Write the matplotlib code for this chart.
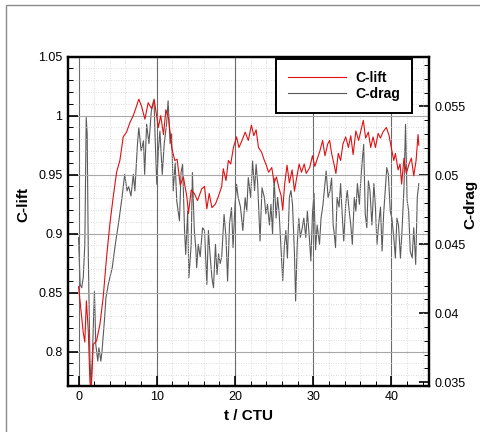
import numpy as np
import matplotlib
matplotlib.use("Agg")
import matplotlib.pyplot as plt
from matplotlib.ticker import MultipleLocator
from matplotlib.patches import Rectangle

plt.rcParams['font.family'] = ['Liberation Sans', 'DejaVu Sans']

# C-lift history (left axis)
t_lift = [0.0, 0.4, 0.6, 0.8, 1.0, 1.24, 1.45, 1.6, 1.88, 2.3,
          2.73, 3.15, 3.58, 4.0, 4.43, 4.86, 5.28, 5.71, 6.13, 6.56,
          6.99, 7.41, 7.7, 8.05, 8.48, 8.9, 9.33, 9.66, 10.2, 10.5,
          10.86, 11.16, 11.5, 11.93, 12.3, 12.6, 13.0, 13.4, 13.85, 14.05,
          14.4, 14.8, 15.2, 15.75, 16.1, 16.4, 16.7, 17.05, 17.5, 17.9,
          18.3, 18.5, 18.85, 19.15, 19.45, 19.8, 20.2, 20.5, 20.9, 21.3,
          21.7, 22.1, 22.4, 22.7, 23.0, 23.4, 23.7, 24.0, 24.3, 24.7,
          25.0, 25.3, 25.6, 25.9, 26.1, 26.35, 26.65, 26.95, 27.3, 27.6,
          27.9, 28.2, 28.5, 28.85, 29.1, 29.55, 29.9, 30.2, 30.55, 30.85,
          31.2, 31.5, 31.85, 32.1, 32.35, 32.65, 32.9, 33.2, 33.5, 33.8,
          34.15, 34.5, 34.8, 35.1, 35.45, 35.8, 36.05, 36.4, 36.7, 37.05,
          37.35, 37.65, 37.95, 38.3, 38.6, 38.9, 39.35, 39.7, 40.0, 40.3,
          40.5, 40.85, 41.1, 41.3, 41.6, 41.9, 42.25, 42.55, 42.85, 43.15,
          43.4, 43.5]
c_lift = [0.855, 0.829, 0.816, 0.808, 0.843, 0.818, 0.775, 0.765, 0.806, 0.809,
          0.823, 0.846, 0.88, 0.908, 0.931, 0.952, 0.962, 0.982, 0.986, 0.994,
          1.0, 1.008, 1.014, 1.008, 0.997, 1.011, 1.006, 1.014, 0.99, 1.0,
          0.984, 1.005, 0.998, 0.972, 0.962, 0.963, 0.941, 0.948, 0.931, 0.917,
          0.937, 0.934, 0.928, 0.938, 0.94, 0.921, 0.934, 0.922, 0.925, 0.932,
          0.94, 0.955, 0.945, 0.962, 0.959, 0.973, 0.982, 0.973, 0.979, 0.986,
          0.979, 0.992, 0.983, 0.988, 0.973, 0.969, 0.963, 0.958, 0.952, 0.956,
          0.943, 0.948, 0.939, 0.932, 0.92, 0.942, 0.958, 0.943, 0.954, 0.936,
          0.948, 0.959, 0.952, 0.959, 0.951, 0.956, 0.966, 0.957, 0.964, 0.97,
          0.979, 0.966, 0.976, 0.979, 0.968, 0.959, 0.951, 0.968, 0.962, 0.976,
          0.982, 0.973, 0.983, 0.967, 0.987, 0.979, 0.986, 0.996, 0.981, 0.986,
          0.973, 0.982, 0.973, 0.985, 0.981, 0.986, 0.99, 0.983, 0.972, 0.962,
          0.968, 0.954, 0.959, 0.942, 0.964, 0.951, 0.959, 0.964, 0.949, 0.962,
          0.984, 0.975]

# C-drag history (right axis)
t_drag = [0.0, 0.2, 0.4, 0.6, 0.8, 0.98, 1.1, 1.25, 1.45, 1.6,
          1.8, 2.03, 2.2, 2.46, 2.6, 2.85, 3.0, 3.3, 3.5, 3.8,
          4.3, 4.7, 5.15, 5.55, 5.9, 6.2, 6.4, 6.7, 7.0, 7.2,
          7.5, 7.7, 8.0, 8.3, 8.45, 8.7, 9.0, 9.3, 9.65, 9.8,
          10.0, 10.2, 10.4, 10.7, 10.95, 11.25, 11.45, 11.7, 11.9, 12.1,
          12.35, 12.55, 12.9, 13.1, 13.3, 13.55, 13.7, 13.95, 14.1, 14.4,
          14.55, 14.8, 15.0, 15.1, 15.3, 15.55, 15.85, 16.1, 16.4, 16.6,
          16.8, 17.05, 17.25, 17.5, 17.7, 17.9, 18.1, 18.3, 18.6, 18.85,
          19.05, 19.3, 19.55, 19.75, 20.0, 20.2, 20.4, 20.7, 21.0, 21.3,
          21.5, 21.7, 22.0, 22.25, 22.5, 22.7, 22.9, 23.2, 23.45, 23.75,
          23.95, 24.15, 24.4, 24.6, 24.8, 25.0, 25.25, 25.45, 25.65, 25.85,
          26.1, 26.3, 26.5, 26.7, 26.95, 27.15, 27.35, 27.6, 27.75, 27.95,
          28.15, 28.35, 28.6, 28.8, 29.05, 29.25, 29.5, 29.7, 29.9, 30.1,
          30.3, 30.5, 30.8, 31.0, 31.25, 31.45, 31.65, 31.9, 32.15, 32.35,
          32.55, 32.7, 32.85, 33.05, 33.3, 33.5, 33.7, 33.9, 34.15, 34.35,
          34.6, 34.8, 35.0, 35.25, 35.45, 35.65, 35.9, 36.1, 36.3, 36.45,
          36.65, 36.85, 37.05, 37.25, 37.5, 37.75, 37.95, 38.15, 38.35, 38.6,
          38.8, 39.0, 39.2, 39.4, 39.6, 39.85, 40.05, 40.3, 40.5, 40.7,
          40.9, 41.15, 41.35, 41.6, 41.8, 42.0, 42.2, 42.4, 42.65, 42.85,
          43.1, 43.3, 43.5]
c_drag = [0.04548, 0.04209, 0.04185, 0.04258, 0.045, 0.05419, 0.0530, 0.04403, 0.03677, 0.0345,
          0.0375, 0.04161, 0.03774, 0.03653, 0.0375, 0.03653, 0.03726, 0.03943, 0.04112, 0.04209,
          0.0433, 0.045, 0.04669, 0.04838, 0.05007, 0.04887, 0.0492, 0.0485, 0.05007, 0.04887,
          0.052, 0.05346, 0.05177, 0.0525, 0.05007, 0.0537, 0.0523, 0.05467, 0.0554, 0.0525,
          0.04935, 0.0518, 0.0532, 0.05007, 0.0523, 0.0537, 0.0554, 0.0523, 0.053, 0.04887,
          0.0509, 0.04814, 0.0467, 0.0502, 0.0508, 0.046, 0.04427, 0.0474, 0.04258, 0.045,
          0.0502, 0.046, 0.0446, 0.0433, 0.045, 0.0441, 0.0462, 0.046, 0.0421, 0.046,
          0.0443, 0.04258, 0.04185, 0.045, 0.0428, 0.0443, 0.0436, 0.0441, 0.04717, 0.0455,
          0.04234, 0.0465, 0.04766, 0.04476, 0.0479, 0.04935, 0.0484, 0.0477, 0.046, 0.04838,
          0.0474, 0.04983, 0.0484, 0.05104, 0.0489, 0.0508, 0.0494, 0.04524, 0.0491, 0.0484,
          0.0472, 0.0479, 0.0464, 0.0479, 0.04572, 0.0498, 0.0469, 0.0484, 0.0472, 0.045,
          0.04234, 0.0448, 0.046, 0.044, 0.0484, 0.0489, 0.0479, 0.0443, 0.04089, 0.045,
          0.0469, 0.0455, 0.0462, 0.0469, 0.0455, 0.0474, 0.0455, 0.04379, 0.0472, 0.0487,
          0.0446, 0.0464, 0.045, 0.0469, 0.0479, 0.0491, 0.05032, 0.0484, 0.0489, 0.0498,
          0.0464, 0.04572, 0.04476, 0.0484, 0.0477, 0.0494, 0.0472, 0.04524, 0.0479, 0.0489,
          0.0474, 0.0464, 0.045, 0.0484, 0.0474, 0.0494, 0.0479, 0.0498, 0.05128, 0.05225,
          0.0472, 0.0462, 0.0496, 0.0489, 0.0464, 0.0494, 0.0477, 0.045, 0.0464, 0.0477,
          0.04451, 0.0472, 0.0489, 0.05056, 0.0501, 0.0474, 0.0469, 0.0455, 0.044, 0.0469,
          0.0464, 0.044, 0.046, 0.0491, 0.0537, 0.0482, 0.0474, 0.0445, 0.044, 0.0462,
          0.04354, 0.0484, 0.0494]

fig = plt.figure(figsize=(4.81, 4.32), dpi=100)
# outer gray frame (left and top edges visible)
fig.patches.append(Rectangle((5.5 / 481, -0.1), 1.2, 1.1 - 4.5 / 432,
                             transform=fig.transFigure, fill=False,
                             edgecolor='#8a8a8a', lw=1.0))

ax = fig.add_axes([68 / 481, 1 - 385.7 / 432, 361 / 481, 329 / 432])
ax2 = ax.twinx()

ax.set_xlim(-1.35, 44.8)
ax.set_ylim(0.771, 1.05)
ax2.set_ylim(0.03475, 0.0586)

ax.xaxis.set_major_locator(MultipleLocator(10))
ax.xaxis.set_minor_locator(MultipleLocator(2))
ax.yaxis.set_minor_locator(MultipleLocator(0.01))
ax2.yaxis.set_minor_locator(MultipleLocator(0.001))

ax.set_yticks([0.8, 0.85, 0.9, 0.95, 1.0, 1.05])
ax.set_yticklabels(['0.8', '0.85', '0.9', '0.95', '1', '1.05'])
ax2.set_yticks([0.035, 0.04, 0.045, 0.05, 0.055])
ax2.set_yticklabels(['0.035', '0.04', '0.045', '0.05', '0.055'])

ax.grid(which='major', axis='x', color='#6a6a6a', lw=0.8)
ax.grid(which='major', axis='y', color='#a8a8a8', lw=0.8)
ax.grid(which='minor', color='#cfcfcf', lw=0.6, ls=(0, (1, 2)))
ax.set_axisbelow(True)

for a in (ax, ax2):
    for s in a.spines.values():
        s.set_linewidth(1.6)
    a.tick_params(which='major', direction='in', length=7, width=1.2,
                  labelsize=9, pad=4)
    a.tick_params(which='minor', direction='in', length=3.5, width=0.7)
ax.tick_params(top=False, right=False)

l2, = ax2.plot(t_drag, c_drag, color='#5a5a5a', lw=0.8, label='C-drag')
l1, = ax.plot(t_lift, c_lift, color='#e01010', lw=0.8, label='C-lift')
ax.set_zorder(ax2.get_zorder() + 1)
ax.patch.set_visible(False)

ax.set_xlabel('t / CTU', fontsize=11, fontweight='bold')
ax.xaxis.set_label_coords(0.5, -0.072)
ax.set_ylabel('C-lift', fontsize=11, fontweight='bold')
ax.yaxis.set_label_coords(-0.105, 0.55)
ax2.set_ylabel('C-drag', fontsize=11, fontweight='bold')
ax2.yaxis.set_label_coords(1.095, 0.55)

leg = ax.legend(handles=[l1, l2], loc='upper right',
                bbox_to_anchor=((411.7 - 68) / 361, 1 - (58.7 - 56.7) / 329),
                frameon=True, fancybox=False, edgecolor='black',
                prop={'weight': 'bold', 'size': 10}, handlelength=4.2,
                handletextpad=0.65, borderpad=0.85, labelspacing=0.2,
                borderaxespad=0)
leg.get_frame().set_linewidth(1.4)
leg.get_frame().set_facecolor('white')
leg.get_frame().set_alpha(1)

fig.savefig('out.png', dpi=100)
